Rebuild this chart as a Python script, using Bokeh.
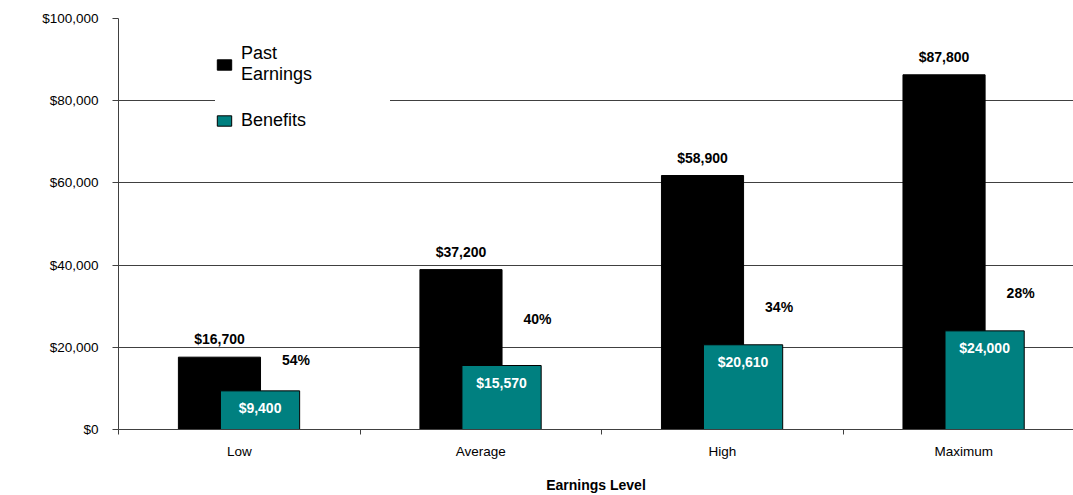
from bokeh.plotting import figure
from bokeh.models import (ColumnDataSource, Range1d, FixedTicker, NumeralTickFormatter,
                          Legend, LegendItem)
from bokeh.core.properties import value
from bokeh.transform import dodge
from bokeh.embed import file_html
from bokeh.resources import INLINE

# ---- data ----
categories = ["Low", "Average", "High", "Maximum"]
past_earnings = [17600, 38900, 61800, 86300]          # bar heights as drawn
earnings_labels = ["$16,700", "$37,200", "$58,900", "$87,800"]
benefits = [9400, 15570, 20610, 24000]
benefit_labels = ["$9,400", "$15,570", "$20,610", "$24,000"]
replacement_rates = ["54%", "40%", "34%", "28%"]
rate_label_y = [16800, 27000, 29900, 33100]
y_ticks = [0, 20000, 40000, 60000, 80000, 100000]

pos = [i + 0.5 for i in range(len(categories))]
src = ColumnDataSource(dict(x=pos, earn=past_earnings, earn_lbl=earnings_labels,
                            ben=benefits, ben_lbl=benefit_labels,
                            rate=replacement_rates, rate_y=rate_label_y))

FONT = value("Liberation Sans")

p = figure(width=1073, height=495, x_range=Range1d(0, 3.954), y_range=Range1d(0, 100000),
           output_backend="svg", toolbar_location=None,
           min_border_left=118, min_border_right=0, min_border_top=18, min_border_bottom=66)
p.outline_line_color = None
p.background_fill_color = "white"

r1 = p.vbar(x=dodge("x", -0.082, range=p.x_range), top="earn", width=0.34, source=src,
            fill_color="black", line_color="black")
r2 = p.vbar(x=dodge("x", 0.086, range=p.x_range), top="ben", width=0.328, source=src,
            fill_color="#008080", line_color="black", line_width=1)

p.text(x=dodge("x", -0.082, range=p.x_range), y="earn", text="earn_lbl", source=src,
       text_align="center", text_baseline="middle", y_offset=-18,
       text_font=FONT, text_font_style="bold", text_font_size="14px", text_color="black")
p.text(x=dodge("x", 0.086, range=p.x_range), y="ben", text="ben_lbl", source=src,
       text_align="center", text_baseline="middle", y_offset=17,
       text_font=FONT, text_font_style="bold", text_font_size="14px", text_color="white")
p.text(x=dodge("x", 0.235, range=p.x_range), y="rate_y", text="rate", source=src,
       text_align="center", text_baseline="middle",
       text_font=FONT, text_font_style="bold", text_font_size="14px", text_color="black")

# grid
p.xgrid.grid_line_color = None
p.ygrid.grid_line_color = "#404040"
p.ygrid.ticker = FixedTicker(ticks=y_ticks)

# y axis
p.yaxis.ticker = FixedTicker(ticks=y_ticks)
p.yaxis.formatter = NumeralTickFormatter(format="$0,0")
p.yaxis.axis_line_color = "#404040"
p.yaxis.major_tick_line_color = "#404040"
p.yaxis.major_tick_out = 6
p.yaxis.major_tick_in = 0
p.yaxis.minor_tick_out = 0
p.yaxis.major_label_standoff = 14
p.yaxis.major_label_text_font = "Liberation Sans"
p.yaxis.major_label_text_font_size = "13.5px"
p.yaxis.major_label_text_color = "black"

# x axis
p.xaxis.ticker = FixedTicker(ticks=pos, minor_ticks=[0, 1, 2, 3, 4])
p.xaxis.major_label_overrides = {x: c for x, c in zip(pos, categories)}
p.xaxis.axis_line_color = "#404040"
p.xaxis.major_tick_out = 0
p.xaxis.major_tick_in = 0
p.xaxis.minor_tick_out = 5
p.xaxis.minor_tick_in = 0
p.xaxis.minor_tick_line_color = "#404040"
p.xaxis.major_label_standoff = 9
p.xaxis.major_label_text_font = "Liberation Sans"
p.xaxis.major_label_text_font_size = "13.5px"
p.xaxis.major_label_text_color = "black"
p.xaxis.axis_label = "Earnings Level"
p.xaxis.axis_label_text_font = "Liberation Sans"
p.xaxis.axis_label_text_font_style = "bold"
p.xaxis.axis_label_text_font_size = "14px"
p.xaxis.axis_label_text_color = "black"
p.xaxis.axis_label_standoff = 15

legend = Legend(items=[LegendItem(label="Past\nEarnings", renderers=[r1]),
                       LegendItem(label="Benefits", renderers=[r2])],
                location=(97, 298), orientation="vertical",
                background_fill_color="white", background_fill_alpha=1.0,
                border_line_color=None, glyph_width=18, glyph_height=13,
                label_standoff=8, label_text_font="Liberation Sans",
                label_text_font_size="18px", label_text_color="black",
                padding=10, spacing=25, margin=0, label_width=149)
p.add_layout(legend)

open("out.html", "w").write(file_html(p, INLINE))
